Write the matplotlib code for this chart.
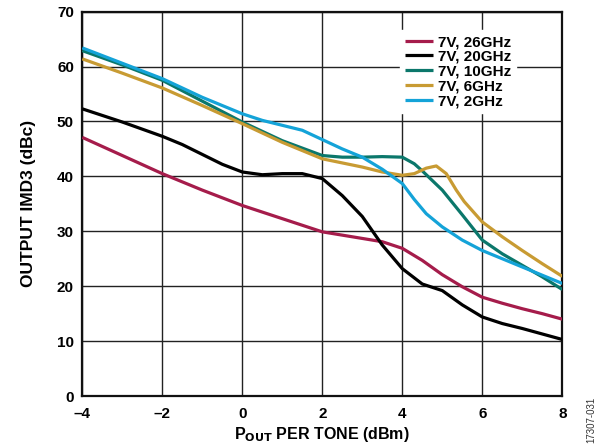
import matplotlib
matplotlib.use("Agg")
import matplotlib.pyplot as plt

plt.rcParams['font.family'] = ['Liberation Sans', 'DejaVu Sans']

labels = ["7V, 26GHz", "7V, 20GHz", "7V, 10GHz", "7V, 6GHz", "7V, 2GHz"]
colors = ["#A51C4B", "#000000", "#0B776B", "#C89B33", "#14A3D8"]

x_26 = [-4, -3, -2, -1, 0, 1, 2, 3, 3.5, 4, 4.5, 5, 5.5, 6, 6.5, 7, 7.5, 8]
y_26 = [47.1, 43.8, 40.5, 37.5, 34.7, 32.3, 29.9, 28.7, 28.1, 26.9, 24.7, 22.1, 19.9, 18.0, 16.9, 15.9, 15.0, 14.0]

x_20 = [-4, -3, -2, -1.5, -1, -0.5, 0, 0.5, 1, 1.5, 2, 2.5, 3, 3.5, 4, 4.5, 5, 5.5, 6, 6.5, 7, 7.5, 8]
y_20 = [52.3, 49.9, 47.3, 45.8, 44.0, 42.2, 40.8, 40.3, 40.5, 40.5, 39.6, 36.5, 32.7, 27.5, 23.2, 20.4, 19.2, 16.6, 14.4, 13.2, 12.3, 11.3, 10.3]

x_10 = [-4, -3, -2, -1, 0, 1, 2, 2.5, 3, 3.5, 4, 4.3, 4.5, 5, 5.5, 6, 6.5, 7, 7.5, 8]
y_10 = [62.9, 60.3, 57.5, 53.7, 49.9, 46.5, 43.8, 43.5, 43.5, 43.6, 43.5, 42.3, 41.0, 37.5, 33.0, 28.4, 25.9, 23.8, 21.7, 19.4]

x_6 = [-4, -3, -2, -1, 0, 1, 2, 3, 3.5, 4, 4.3, 4.6, 4.85, 5.1, 5.35, 5.55, 6, 6.5, 7, 7.5, 8]
y_6 = [61.4, 58.8, 56.1, 52.9, 49.6, 46.2, 43.2, 41.7, 40.8, 40.2, 40.5, 41.5, 41.9, 40.5, 37.5, 35.4, 31.7, 29.0, 26.5, 24.1, 21.8]

x_2 = [-4, -3, -2, -1, 0, 0.5, 1, 1.5, 2, 2.5, 3, 3.5, 4, 4.3, 4.6, 5, 5.5, 6, 6.5, 7, 7.5, 8]
y_2 = [63.4, 60.6, 57.8, 54.4, 51.4, 50.2, 49.3, 48.4, 46.7, 45.0, 43.5, 41.3, 38.7, 35.8, 33.2, 30.8, 28.4, 26.5, 25.0, 23.5, 22.0, 20.5]

series_x = [x_26, x_20, x_10, x_6, x_2]
series_y = [y_26, y_20, y_10, y_6, y_2]

x_ticks = [-4, -2, 0, 2, 4, 6, 8]
x_ticklabels = ["\u20134", "\u20132", "0", "2", "4", "6", "8"]
y_ticks = [0, 10, 20, 30, 40, 50, 60, 70]

fig = plt.figure(figsize=(6.02, 4.48), dpi=100)
ax = fig.add_axes([0.1367, 0.116, 0.7973, 0.858])

for xs, ys, c, lab in zip(series_x, series_y, colors, labels):
    ax.plot(xs, ys, color=c, lw=2.3, label=lab, solid_capstyle='butt', zorder=3)

ax.set_xlim(-4, 8)
ax.set_ylim(0, 70)
ax.set_xticks(x_ticks)
ax.set_xticklabels(x_ticklabels)
ax.set_yticks(y_ticks)
ax.grid(True, color='#222222', lw=1.0)
ax.set_axisbelow(True)
for s in ax.spines.values():
    s.set_linewidth(1.6)
    s.set_color('#111111')
ax.tick_params(length=0, labelsize=11)
ax.tick_params(axis='x', pad=8)
ax.tick_params(axis='y', pad=6)
for t in ax.get_xticklabels() + ax.get_yticklabels():
    t.set_fontweight('bold')

ax.set_xlabel("P$_{\\mathbf{OUT}}$ PER TONE (dBm)", fontsize=11.5, fontweight='bold', labelpad=3)
ax.set_ylabel("OUTPUT IMD3 (dBc)", fontsize=12.5, fontweight='bold', labelpad=15)

leg = ax.legend(loc='upper left', bbox_to_anchor=(0.647, 0.971), frameon=True,
                fancybox=False, framealpha=1, edgecolor='white', facecolor='white',
                fontsize=11, handlelength=1.8, handletextpad=0.35, labelspacing=0.05,
                borderpad=0.3)
for t in leg.get_texts():
    t.set_fontweight('bold')
leg.set_zorder(5)

fig.text(0.983, 1 - 397 / 448, "17307-031", rotation=90, fontsize=7, color='#333333',
         ha='center', va='top')

fig.savefig("out.png", dpi=100)
